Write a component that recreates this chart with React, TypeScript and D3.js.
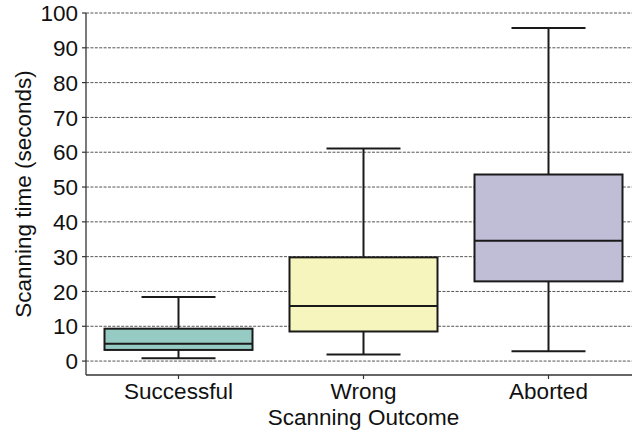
import React from "react";
import * as d3 from "d3";

const categories = ["Successful", "Wrong", "Aborted"];
const whiskerLow = [0.8, 1.9, 2.8];
const q1 = [3.2, 8.5, 22.9];
const median = [5.0, 15.8, 34.6];
const q3 = [9.3, 29.8, 53.6];
const whiskerHigh = [18.4, 61.1, 95.7];
const colors = ["#95cbc3", "#f5f5bd", "#c0bdd6"];
const yTicks = [0, 10, 20, 30, 40, 50, 60, 70, 80, 90, 100];

const W = 632;
const H = 432;
const left = 86;
const right = 641;
const top = 13;
const bottom = 375;
const font = "'Liberation Sans', Arial, sans-serif";
const fs = 22.5;

export default function App() {
  const y = d3.scaleLinear().domain([-4, 100]).range([bottom, top]);
  const x = d3.scaleBand().domain(categories).range([left, right]).paddingInner(0.2).paddingOuter(0.1);
  const bw = x.bandwidth();
  const cx = (c: string) => (x(c) as number) + bw / 2;
  const capW = bw / 2;
  const edge = "#1a1a1a";

  return (
    <svg width={W} height={H} style={{ position: "absolute", left: 0, top: 0, background: "#fff" }}>
      <rect x={0} y={0} width={W} height={H} fill="#fff" />
      {yTicks.map((t) => (
        <line key={"g" + t} x1={left} x2={right} y1={y(t)} y2={y(t)} stroke="#555" strokeWidth={1} strokeDasharray="3,1.4" />
      ))}
      {categories.map((c, i) => {
        const xc = cx(c);
        const x0 = x(c) as number;
        return (
          <g key={c}>
            <line x1={xc} x2={xc} y1={y(q3[i])} y2={y(whiskerHigh[i])} stroke={edge} strokeWidth={2} />
            <line x1={xc} x2={xc} y1={y(q1[i])} y2={y(whiskerLow[i])} stroke={edge} strokeWidth={2} />
            <line x1={xc - capW / 2} x2={xc + capW / 2} y1={y(whiskerHigh[i])} y2={y(whiskerHigh[i])} stroke={edge} strokeWidth={2} />
            <line x1={xc - capW / 2} x2={xc + capW / 2} y1={y(whiskerLow[i])} y2={y(whiskerLow[i])} stroke={edge} strokeWidth={2} />
            <rect x={x0} y={y(q3[i])} width={bw} height={y(q1[i]) - y(q3[i])} fill={colors[i]} stroke={edge} strokeWidth={2} />
            <line x1={x0} x2={x0 + bw} y1={y(median[i])} y2={y(median[i])} stroke={edge} strokeWidth={2} />
          </g>
        );
      })}
      <line x1={left} x2={left} y1={top} y2={bottom} stroke="#333" strokeWidth={1.3} />
      <line x1={left} x2={right} y1={bottom} y2={bottom} stroke="#333" strokeWidth={1.3} />
      {yTicks.map((t) => (
        <g key={"t" + t}>
          <line x1={left - 4} x2={left} y1={y(t)} y2={y(t)} stroke="#333" strokeWidth={1.2} />
          <text x={left - 8} y={y(t)} dy="0.36em" textAnchor="end" fontFamily={font} fontSize={fs} fill="#111">
            {t}
          </text>
        </g>
      ))}
      {categories.map((c) => (
        <g key={"x" + c}>
          <line x1={cx(c)} x2={cx(c)} y1={bottom} y2={bottom + 4} stroke="#333" strokeWidth={1.2} />
          <text x={cx(c)} y={399} textAnchor="middle" fontFamily={font} fontSize={fs} fill="#111">
            {c}
          </text>
        </g>
      ))}
      <text x={(left + right) / 2} y={425} textAnchor="middle" fontFamily={font} fontSize={fs} fill="#111">
        Scanning Outcome
      </text>
      <text transform={`translate(31,${(top + bottom) / 2}) rotate(-90)`} textAnchor="middle" fontFamily={font} fontSize={fs} fill="#111">
        Scanning time (seconds)
      </text>
    </svg>
  );
}
